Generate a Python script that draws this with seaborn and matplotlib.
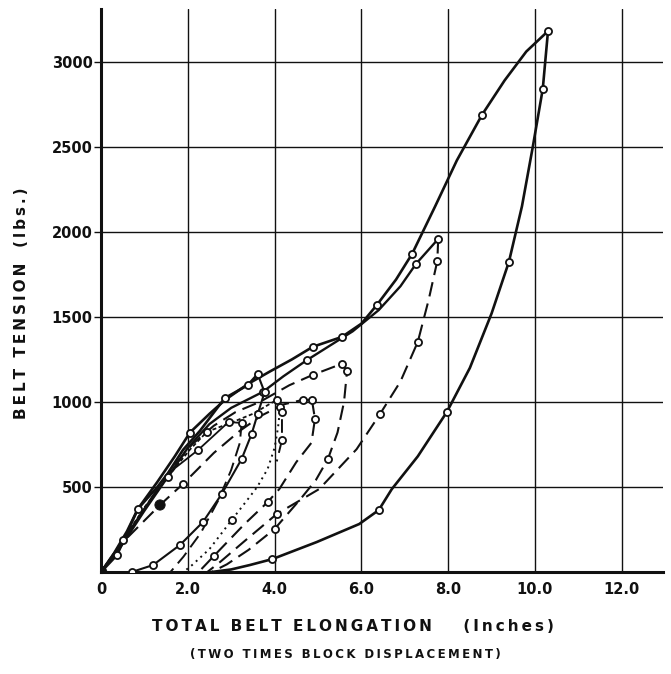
import matplotlib
matplotlib.use("Agg")
import matplotlib.pyplot as plt
import seaborn as sns

sns.set_theme(style="white")
plt.rcParams["font.family"] = ["DejaVu Sans"]

# ---- belt tension vs. elongation: loading / unloading cycles ----
# each cycle: path of the drawn line, and the plotted test points (open circles)

big_load_x = [0, 0.3, 0.6, 0.85, 1.3, 1.7, 2.05, 2.5, 2.86, 3.39, 3.9, 4.4, 4.88, 5.55, 6.0, 6.36, 6.8, 7.17, 7.7, 8.2, 8.78, 9.3, 9.8, 10.3]
big_load_y = [0, 110, 240, 371, 530, 680, 820, 930, 1012, 1106, 1180, 1250, 1324, 1382, 1460, 1571, 1720, 1871, 2150, 2420, 2688, 2890, 3060, 3180]
big_load_px = [2.05, 4.88, 5.55, 6.36, 7.17, 8.78, 10.3]
big_load_py = [820, 1324, 1382, 1571, 1871, 2688, 3180]

big_unload_x = [10.3, 10.18, 9.95, 9.7, 9.4, 9.0, 8.5, 7.97, 7.3, 6.7, 6.4, 5.95, 4.97, 3.95, 3.43, 3.0, 2.55]
big_unload_y = [3180, 2841, 2500, 2150, 1824, 1520, 1200, 941, 680, 487, 364, 282, 176, 76, 41, 15, 0]
big_unload_px = [10.18, 9.4, 7.97, 6.4, 3.95]
big_unload_py = [2841, 1824, 941, 364, 76]

c2_load_x = [0, 0.5, 1.0, 1.5, 2.0, 2.5, 3.0, 3.73, 4.2, 4.74, 5.3, 5.8, 6.4, 6.9, 7.26, 7.77]
c2_load_y = [0, 165, 360, 545, 730, 870, 965, 1059, 1150, 1245, 1335, 1415, 1540, 1680, 1812, 1958]
c2_load_px = [3.73, 4.74, 7.26, 7.77]
c2_load_py = [1059, 1245, 1812, 1958]

c2_unload_x = [7.77, 7.75, 7.55, 7.3, 6.9, 6.43, 5.89, 5.03, 4.05, 3.3, 2.75, 2.45]
c2_unload_y = [1958, 1829, 1600, 1353, 1120, 929, 722, 488, 341, 180, 60, 0]
c2_unload_px = [7.75, 7.3, 6.43, 4.05]
c2_unload_py = [1829, 1353, 929, 341]

c3_load_x = [0, 0.55, 1.1, 1.6, 2.1, 2.6, 3.1, 3.66, 4.34, 4.88, 5.55]
c3_load_y = [0, 190, 410, 600, 750, 860, 940, 1000, 1098, 1159, 1224]
c3_load_px = [4.88, 5.55]
c3_load_py = [1159, 1224]

c3_unload_x = [5.55, 5.67, 5.6, 5.45, 5.23, 4.95, 4.6, 4.0, 3.4, 2.9, 2.55]
c3_unload_y = [1224, 1182, 1000, 820, 665, 540, 430, 253, 130, 45, 0]
c3_unload_px = [5.67, 5.23, 4.0]
c3_unload_py = [1182, 665, 253]

c4_load_x = [0, 0.6, 1.36, 1.89, 2.6, 3.2, 3.7, 4.2, 4.65, 4.86]
c4_load_y = [0, 200, 394, 518, 700, 830, 920, 985, 1012, 1012]
c4_load_px = [1.89, 4.65, 4.86]
c4_load_py = [518, 1012, 1012]

c4_unload_x = [4.86, 4.93, 4.85, 4.5, 4.11, 3.84, 3.3, 2.6, 2.4, 2.25]
c4_unload_y = [1012, 900, 760, 646, 488, 411, 280, 94, 40, 0]
c4_unload_px = [4.93, 3.84, 2.6]
c4_unload_py = [900, 411, 94]

c5_load_x = [0, 0.51, 1.0, 1.54, 2.05, 2.44, 3.0, 3.5, 4.05]
c5_load_y = [0, 188, 380, 559, 720, 824, 878, 930, 1012]
c5_load_px = [0.51, 1.54, 2.44, 4.05]
c5_load_py = [188, 559, 824, 1012]

c5_unload_x = [4.05, 4.12, 4.08, 4.0, 3.84, 3.6, 3.36, 3.01, 2.5, 2.1, 1.9]
c5_unload_y = [1012, 947, 850, 730, 606, 500, 420, 305, 135, 41, 0]
c5_unload_px = [3.01]
c5_unload_py = [305]

c5_spur_x = [4.05, 4.13, 4.17, 4.17, 4.05]
c5_spur_y = [1012, 970, 941, 776, 650]
c5_spur_px = [4.13, 4.17, 4.17]
c5_spur_py = [970, 941, 776]

c6_load_x = [0, 0.37, 0.85, 1.3, 1.54, 1.89, 2.28, 2.85, 3.38, 3.61]
c6_load_y = [0, 100, 371, 500, 580, 718, 830, 1022, 1098, 1163]
c6_load_px = [0.37, 0.85, 2.85, 3.38, 3.61]
c6_load_py = [100, 371, 1022, 1098, 1163]

c6_unload_x = [3.61, 3.77, 3.61, 3.47, 3.24, 2.78, 2.35, 1.82, 1.2, 0.71]
c6_unload_y = [1163, 1057, 929, 811, 664, 458, 294, 159, 41, 0]
c6_unload_px = [3.77, 3.61, 3.47, 3.24, 2.78, 2.35, 1.82, 1.2, 0.71]
c6_unload_py = [1057, 929, 811, 664, 458, 294, 159, 41, 0]

c7_load_x = [0, 0.62, 1.2, 1.7, 2.24, 2.94, 3.24]
c7_load_y = [0, 230, 450, 610, 718, 882, 876]
c7_load_px = [2.24, 2.94, 3.24]
c7_load_py = [718, 882, 876]

c7_unload_x = [3.24, 3.2, 3.0, 2.7, 2.3, 1.9, 1.6]
c7_unload_y = [876, 760, 600, 420, 230, 90, 0]
c7_unload_px = []
c7_unload_py = []

x_ticks = [0, 2, 4, 6, 8, 10, 12]
x_tick_labels = ["0", "2.0", "4.0", "6.0", "8.0", "10.0", "12.0"]
y_ticks = [500, 1000, 1500, 2000, 2500, 3000]
y_tick_labels = ["500", "1000", "1500", "2000", "2500", "3000"]

INK = "#111111"
SOLID = "-"
DASH = (0, (7, 3.5))
DOT = (0, (1, 2.2))
DASHDOT = (0, (2.2, 1.4))

curves = [
    (big_load_x, big_load_y, big_load_px, big_load_py, SOLID, 1.9),
    (big_unload_x, big_unload_y, big_unload_px, big_unload_py, SOLID, 1.9),
    (c2_load_x, c2_load_y, c2_load_px, c2_load_py, SOLID, 1.7),
    (c2_unload_x, c2_unload_y, c2_unload_px, c2_unload_py, DASH, 1.5),
    (c3_load_x, c3_load_y, c3_load_px, c3_load_py, DASH, 1.5),
    (c3_unload_x, c3_unload_y, c3_unload_px, c3_unload_py, DASH, 1.5),
    (c4_load_x, c4_load_y, c4_load_px, c4_load_py, DASH, 1.5),
    (c4_unload_x, c4_unload_y, c4_unload_px, c4_unload_py, DASH, 1.5),
    (c5_load_x, c5_load_y, c5_load_px, c5_load_py, DASHDOT, 1.3),
    (c5_unload_x, c5_unload_y, c5_unload_px, c5_unload_py, DOT, 1.4),
    (c5_spur_x, c5_spur_y, c5_spur_px, c5_spur_py, DASH, 1.4),
    (c6_load_x, c6_load_y, c6_load_px, c6_load_py, SOLID, 1.9),
    (c6_unload_x, c6_unload_y, c6_unload_px, c6_unload_py, SOLID, 1.5),
    (c7_load_x, c7_load_y, c7_load_px, c7_load_py, SOLID, 1.3),
    (c7_unload_x, c7_unload_y, c7_unload_px, c7_unload_py, DASH, 1.4),
]

fig = plt.figure(figsize=(6.71, 6.74), dpi=100)
ax = fig.add_axes([101 / 671, 102 / 674, 562 / 671, 563 / 674])

for lx, ly, px, py, ls, lw in curves:
    sns.lineplot(x=lx, y=ly, sort=False, estimator=None, ax=ax,
                 color=INK, linestyle=ls, linewidth=lw, zorder=3)
    if px:
        sns.scatterplot(x=px, y=py, ax=ax, s=26, marker="o",
                        facecolor="white", edgecolor=INK, linewidth=1.3, zorder=4)

# solid points: origin and one filled reading
sns.scatterplot(x=[0, 1.36], y=[0, 394], ax=ax, s=[70, 55], marker="o",
                color=INK, edgecolor=INK, zorder=5, legend=False)

ax.set_xlim(0, 12.95)
ax.set_ylim(0, 3310)
ax.set_xticks(x_ticks)
ax.set_xticklabels(x_tick_labels)
ax.set_yticks(y_ticks)
ax.set_yticklabels(y_tick_labels)
ax.grid(True, color=INK, linewidth=1.0)
ax.set_axisbelow(True)
for side in ["top", "right"]:
    ax.spines[side].set_visible(False)
for side in ["left", "bottom"]:
    ax.spines[side].set_color(INK)
    ax.spines[side].set_linewidth(2.2)
ax.tick_params(axis="x", length=0, pad=7, labelsize=10.5, labelcolor=INK)
ax.tick_params(axis="y", length=5, width=1, color=INK, pad=1, labelsize=10.5, labelcolor=INK, left=True)
for lab in ax.get_xticklabels() + ax.get_yticklabels():
    lab.set_fontweight("bold")
ax.set_xlabel("")
ax.set_ylabel("")


def spaced(text):
    """Letter-spaced lettering, as on the hand-lettered axis captions."""
    return "\u2009".join(text)


fig.text(0.526, 0.071, spaced("TOTAL BELT ELONGATION") + "      " + spaced("(Inches)"),
         ha="center", va="center", fontsize=11, fontweight="bold", color=INK)
fig.text(0.514, 0.029, spaced("(TWO TIMES BLOCK DISPLACEMENT)"), ha="center", va="center",
         fontsize=8.5, fontweight="bold", color=INK)
fig.text(0.032, 0.55, spaced("BELT TENSION") + "   " + spaced("(lbs.)"), ha="center", va="center",
         rotation=90, fontsize=11, fontweight="bold", color=INK)

fig.savefig("out.png", dpi=100, facecolor="white")
